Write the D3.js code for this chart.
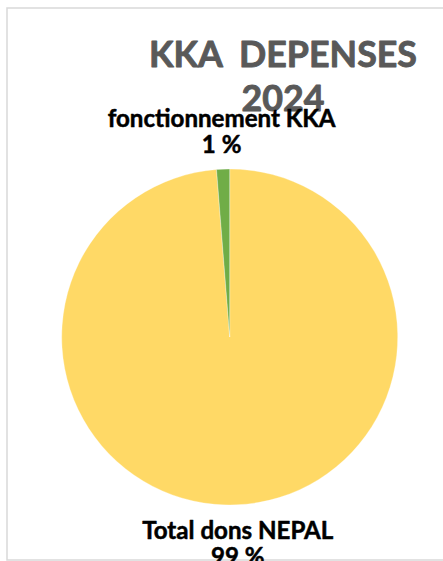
<!DOCTYPE html>
<html><head><meta charset="utf-8">
<script src="https://cdn.jsdelivr.net/npm/d3@7"></script>
<style>
html,body{margin:0;padding:0;background:#fff;overflow:hidden}
text{white-space:pre}
</style></head>
<body>
<svg id="chart" width="443" height="561"></svg>
<script>
const categories = ["Total dons NEPAL", "fonctionnement KKA"];
const values = [98.75, 1.25];
const colors = ["#FFD966", "#70AD47"];
const titleLines = ["KKA  DEPENSES", "2024"];

const W = 443, H = 561;
const svg = d3.select("#chart");
svg.append("rect").attr("x", 0).attr("y", 0).attr("width", W).attr("height", H).attr("fill", "#fff");
svg.append("rect").attr("x", 7).attr("y", 8).attr("width", 520).attr("height", 552)
  .attr("fill", "none").attr("stroke", "#d9d9d9").attr("stroke-width", 1.5);

const cx = 229.7, cy = 337, R = 168;
const data = categories.map((c, i) => ({cat: c, val: values[i], color: colors[i]}));
const pie = d3.pie().value(d => d.val).sort(null);
const arcs = pie(data);
const arc = d3.arc().innerRadius(0).outerRadius(R);
const g = svg.append("g").attr("transform", `translate(${cx},${cy})`);
g.selectAll("path").data(arcs).join("path")
  .attr("d", arc).attr("fill", d => d.data.color)
  .attr("stroke", "#fff").attr("stroke-width", 0.3);

// title
const titleG = svg.append("g");
const t1 = titleG.append("text").attr("x", 283).attr("y", 66.5).attr("text-anchor", "middle")
  .attr("font-family", "Lato, 'Open Sans', sans-serif").attr("font-weight", "bold")
  .attr("fill", "#595959").attr("font-size", 40).text(titleLines[0]);
let tw = t1.node().getComputedTextLength();
const tfs = 40 * 268 / tw;
t1.attr("font-size", tfs);
titleG.append("text").attr("x", 283).attr("y", 110.5).attr("text-anchor", "middle")
  .attr("font-family", "Lato, 'Open Sans', sans-serif").attr("font-weight", "bold")
  .attr("fill", "#595959").attr("font-size", tfs).text(titleLines[1]);
titleG.selectAll("text").attr("stroke", "#595959").attr("stroke-width", 0.9).attr("stroke-linejoin", "round");

// labels
const LR = 206;
const fmt = v => Math.round(v) + " %";
const probe = svg.append("text").attr("font-family", "Lato, 'Open Sans', sans-serif")
  .attr("font-weight", "bold").attr("font-size", 26).text("fonctionnement KKA");
const lfs = 26 * 228 / probe.node().getComputedTextLength();
probe.remove();
arcs.forEach(a => {
  const mid = (a.startAngle + a.endAngle) / 2;
  const x = cx + Math.sin(mid) * LR;
  const y = cy - Math.cos(mid) * LR;
  const t = svg.append("text").attr("text-anchor", "middle")
    .attr("font-family", "Lato, 'Open Sans', sans-serif").attr("font-weight", "bold")
    .attr("font-size", lfs).attr("fill", "#000")
    .attr("stroke", "#000").attr("stroke-width", 0.5).attr("stroke-linejoin", "round");
  t.append("tspan").attr("x", x).attr("y", y - 4).text(a.data.cat);
  t.append("tspan").attr("x", x).attr("y", y + 22).text(fmt(a.data.val));
});
</script>
</body></html>
